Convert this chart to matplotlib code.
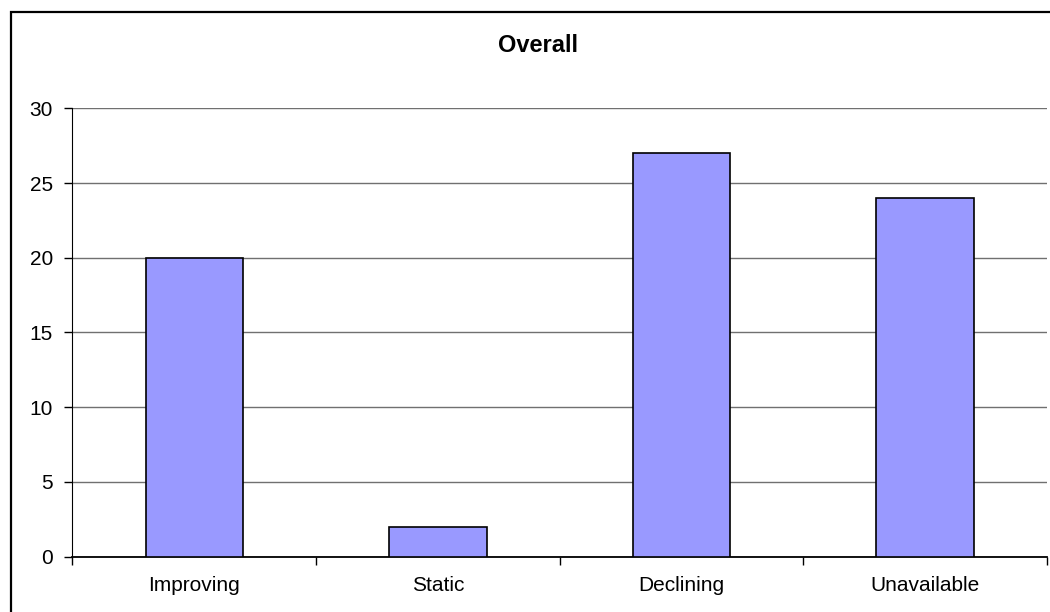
import matplotlib.pyplot as plt
from matplotlib.patches import Rectangle

categories = ['Improving', 'Static', 'Declining', 'Unavailable']
counts = [20, 2, 27, 24]
y_ticks = [0, 5, 10, 15, 20, 25, 30]


def main():
    plt.rcParams['font.family'] = ['Liberation Sans', 'DejaVu Sans']

    fig = plt.figure(figsize=(10.5, 6.12), dpi=100)
    ax = fig.add_axes([0.069, 0.0904, 0.928, 0.7326])

    x = list(range(len(categories)))
    ax.bar(x, counts, width=0.4, color='#9999FF', edgecolor='black',
           linewidth=1.2, zorder=3)

    ax.set_xlim(-0.5, len(categories) - 0.5)
    ax.set_ylim(0, 30)
    ax.set_yticks(y_ticks)
    ax.yaxis.grid(True, color='#707070', linewidth=1.0, zorder=0)

    # category labels in the middle, tick marks on the boundaries
    ax.set_xticks(x)
    ax.set_xticklabels(categories)
    ax.set_xticks([i - 0.5 for i in range(len(categories) + 1)], minor=True)
    ax.tick_params(axis='x', which='major', length=0, pad=14, labelsize=15)
    ax.tick_params(axis='x', which='minor', length=6, width=1, color='black')
    ax.tick_params(axis='y', length=6, width=1, pad=8, labelsize=15)

    for side in ['top', 'right']:
        ax.spines[side].set_visible(False)
    ax.spines['left'].set_color('black')
    ax.spines['bottom'].set_color('black')
    ax.spines['bottom'].set_linewidth(1.3)

    fig.text(538 / 1050, 1 - 45 / 612, 'Overall', ha='center', va='center',
             fontsize=17, fontweight='bold')

    # chart-area frame, runs off the right and bottom edges
    fig.add_artist(Rectangle((10.5 / 1050, -0.05), 1.2, 1 - 11.5 / 612 + 0.05,
                             transform=fig.transFigure, fill=False,
                             edgecolor='black', linewidth=1.6, clip_on=False))

    fig.savefig('out.png', dpi=100)


if __name__ == '__main__':
    main()
